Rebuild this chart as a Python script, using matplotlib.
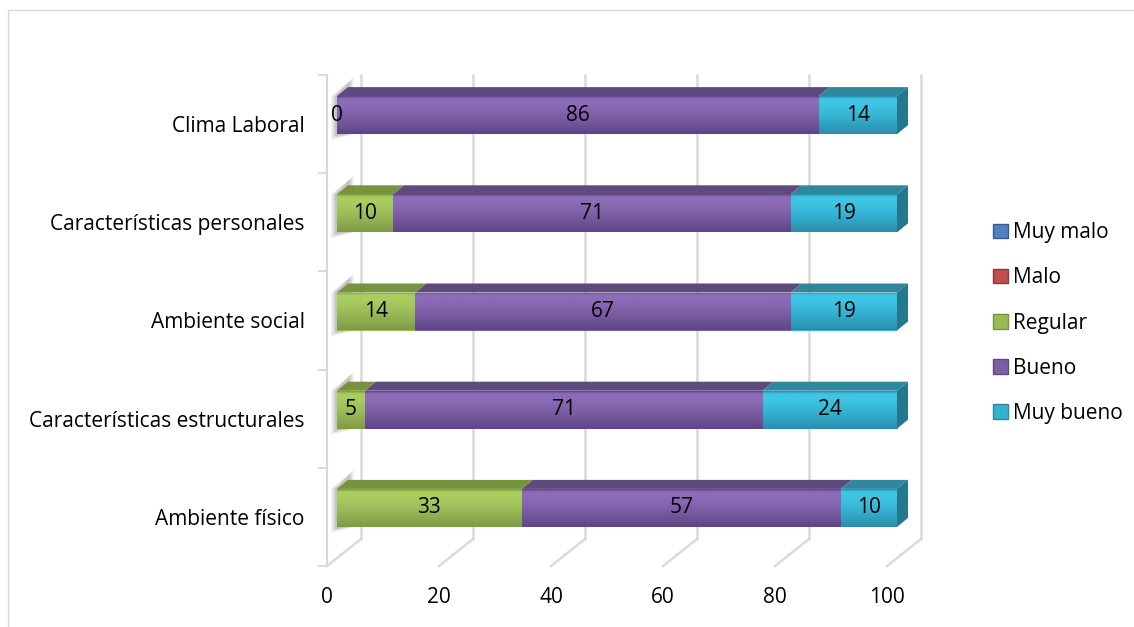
import matplotlib.pyplot as plt
import numpy as np
from matplotlib.patches import Polygon, Rectangle, Patch
from matplotlib.colors import to_rgb

categories = ['Ambiente físico', 'Características estructurales', 'Ambiente social',
              'Características personales', 'Clima Laboral']
series = ['Muy malo', 'Malo', 'Regular', 'Bueno', 'Muy bueno']
muy_malo = [0, 0, 0, 0, 0]
malo = [0, 0, 0, 0, 0]
regular = [33, 5, 14, 10, 0]
bueno = [57, 71, 67, 71, 86]
muy_bueno = [10, 24, 19, 19, 14]
xticks = [0, 20, 40, 60, 80, 100]

values = [muy_malo, malo, regular, bueno, muy_bueno]
show_labels = [False, False, True, True, True]

# front, highlight, shade, top face, side face
palette = [
    ('#4F81BD', '#5B93D6', '#3B6494', '#385D8A', '#31527A'),
    ('#C0504D', '#D65B57', '#943C3A', '#8C3836', '#7A302E'),
    ('#9BBB59', '#A9CD5F', '#7E9A45', '#77933C', '#6A8535'),
    ('#7D5EA5', '#8C6CB8', '#5E4585', '#5F4A7F', '#503D6C'),
    ('#35B2D2', '#3FC4E4', '#2A8EAA', '#2F879E', '#24788D'),
]

plt.rcParams['font.family'] = ['Open Sans', 'DejaVu Sans']
fs = 15

W, H = 1134, 627
fig = plt.figure(figsize=(W / 100, H / 100), dpi=100)
# front plane of the floor: x=0 at 327 px, 5.6 px per unit; walls from 75 to 566 px
pxx = 5.6
x0, y0, y1 = 327, 75, 566
xmax = 110
ax = fig.add_axes([x0 / W, 1 - y1 / H, pxx * xmax / W, (y1 - y0) / H])
ax.set_xlim(0, xmax)
ax.set_ylim(-0.5, 4.5)
pxy = (y1 - y0) / 5.0

def ddx(px):
    return px / pxx

def ddy(px):
    return px / pxy

grid_c = '#D9D9D9'
# back wall grid and floor lines
bx, by = ddx(34), ddy(27)
for v in xticks:
    ax.plot([v + bx, v + bx], [-0.5 + by, 4.5], color=grid_c, lw=1.8, clip_on=False, zorder=1)
    ax.plot([v, v + bx], [-0.5, -0.5 + by], color=grid_c, lw=1.8, clip_on=False, zorder=1)
ax.plot([0, 0], [-0.5, 4.5], color=grid_c, lw=1.5, clip_on=False, zorder=1)

# bars (front faces offset into the depth)
ox, oy = ddx(10), ddy(9)
hgt = ddy(38)
dpx, dpy = ddx(11), ddy(9)
ypos = np.arange(len(categories)) + oy

# soft shadow on the left wall
for i in range(len(categories)):
    bot = ypos[i] - hgt / 2
    top = ypos[i] + hgt / 2
    for k, a in zip([6, 4, 2], [0.12, 0.18, 0.25]):
        ax.add_patch(Polygon([(ox - ddx(k), bot - ddy(k)), (ox - ddx(k), top),
                              (ox + dpx + ddx(k), top + dpy + ddy(k + 4)),
                              (ox + dpx + ddx(k), bot)],
                             closed=True, facecolor='#808080', alpha=a, lw=0, zorder=2))

def gradient(cols):
    f, hi, sh = [np.array(to_rgb(c)) for c in cols[:3]]
    stops = [0.0, 0.06, 0.22, 0.55, 1.0]
    cs = [sh, hi, hi, f, sh]
    t = np.linspace(0, 1, 60)
    arr = np.zeros((60, 1, 3))
    for k in range(3):
        arr[:, 0, k] = np.interp(t, stops, [c[k] for c in cs])
    return arr

left = np.zeros(len(categories))
z = 3
for s, vals in enumerate(values):
    vals = np.array(vals, dtype=float)
    cols = palette[s]
    bars = ax.barh(ypos, vals, left=left + ox, height=hgt, color=cols[0], lw=0, zorder=z)
    grad = gradient(cols)
    for i, b in enumerate(bars):
        if vals[i] <= 0:
            continue
        l = left[i] + ox
        r = l + vals[i]
        bot = ypos[i] - hgt / 2
        top = ypos[i] + hgt / 2
        im = ax.imshow(grad, extent=(l, r, bot, top), aspect='auto', origin='upper',
                       interpolation='bicubic', zorder=z + 0.1)
        im.set_clip_path(b)
        ax.add_patch(Polygon([(l, top), (r, top), (r + dpx, top + dpy), (l + dpx, top + dpy)],
                             closed=True, facecolor=cols[3], lw=0, zorder=z, clip_on=False))
        if show_labels[s]:
            ax.text((l + r) / 2, ypos[i], str(int(vals[i])), ha='center', va='center',
                    fontsize=fs, zorder=20)
    for i in range(len(categories)):
        if vals[i] == 0 and show_labels[s] and left[i] == 0:
            ax.text(left[i] + ox, ypos[i], '0', ha='center', va='center', fontsize=fs, zorder=20)
    left = left + vals
    z += 0.5

# right side faces
for i in range(len(categories)):
    r = left[i] + ox
    bot = ypos[i] - hgt / 2
    top = ypos[i] + hgt / 2
    last = max(s for s in range(len(values)) if values[s][i] > 0)
    ax.add_patch(Polygon([(r, top), (r + dpx, top + dpy), (r + dpx, bot + dpy), (r, bot)],
                         closed=True, facecolor=palette[last][4], lw=0, zorder=10, clip_on=False))

ax.set_ylim(-0.5, 4.5)
ax.set_xlim(0, xmax)
for sp in ax.spines.values():
    sp.set_visible(False)
ax.set_xticks(xticks)
ax.set_xticklabels([str(v) for v in xticks], fontsize=fs)
ax.tick_params(axis='x', length=0, pad=15)
ax.set_yticks(np.arange(-0.5, 5, 1))
ax.set_yticklabels([])
ax.tick_params(axis='y', which='major', length=6.5, color=grid_c, width=1.3)
ax.set_yticks(range(len(categories)), minor=True)
ax.set_yticklabels(categories, minor=True, fontsize=fs)
ax.tick_params(axis='y', which='minor', length=0, pad=16)

handles = [Patch(facecolor=palette[s][0], edgecolor=palette[s][3], lw=1) for s in range(len(series))]
fig.legend(handles, series, loc='center left', bbox_to_anchor=(985 / W, 1 - 323 / H),
           frameon=False, fontsize=fs, labelspacing=1.16, handlelength=0.7, handleheight=0.7,
           handletextpad=0.25, borderaxespad=0)

fig.add_artist(Rectangle((8 / W, -0.1), 1.2, 1.1 - 10 / H, transform=fig.transFigure,
                         fill=False, edgecolor=grid_c, lw=1))

fig.savefig('out.png', dpi=100)
